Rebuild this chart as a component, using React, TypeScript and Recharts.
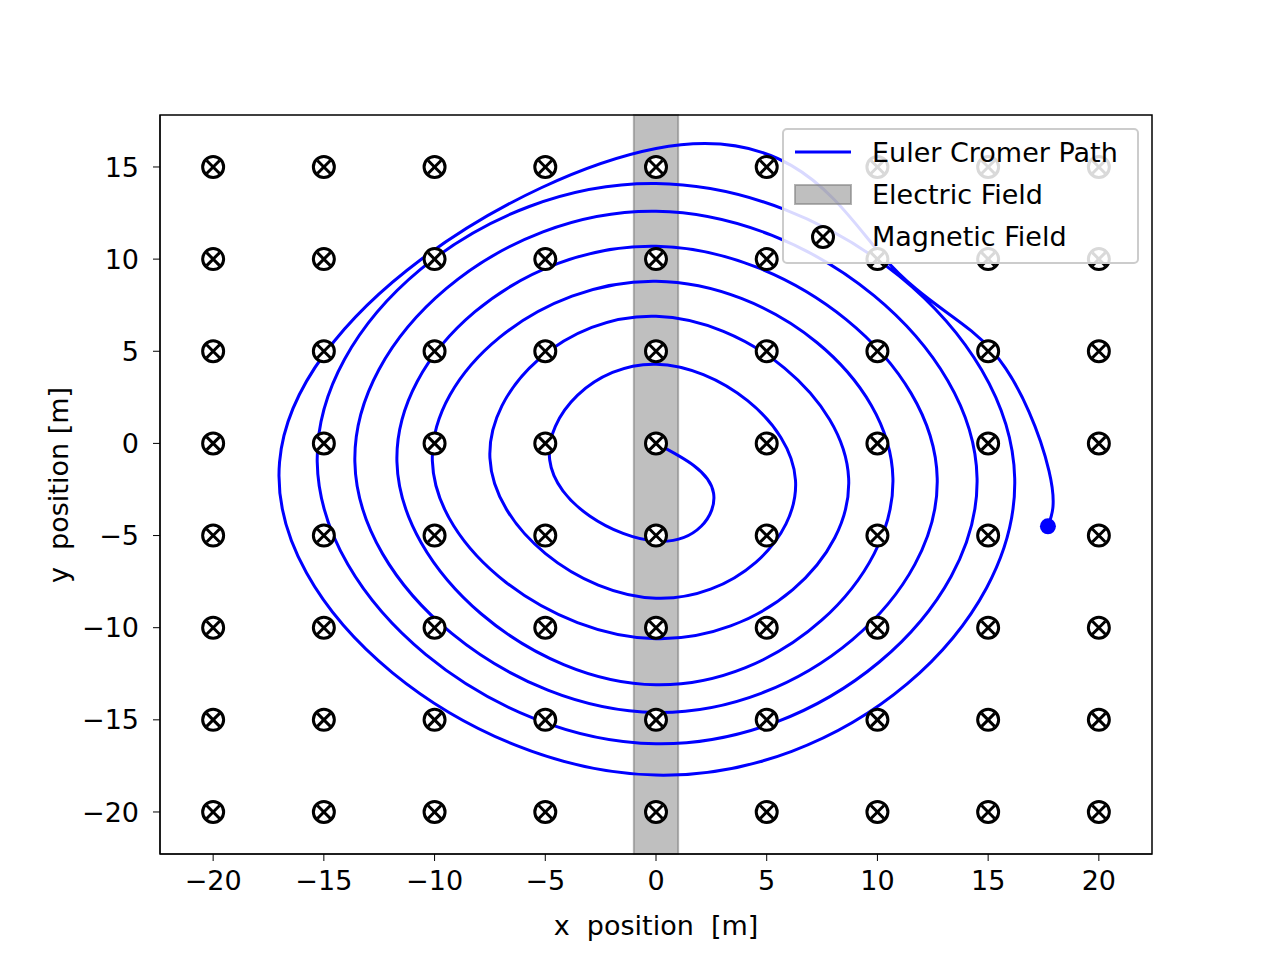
import React from "react";
import { ComposedChart, Line, Scatter, XAxis, YAxis, ReferenceArea } from "recharts";

const xTicks = [-20, -15, -10, -5, 0, 5, 10, 15, 20];
const yTicks = [-20, -15, -10, -5, 0, 5, 10, 15];
const fieldX = [-20, -15, -10, -5, 0, 5, 10, 15, 20];
const fieldY = [-20, -15, -10, -5, 0, 5, 10, 15];
const magnetic = fieldY.flatMap((y) => fieldX.map((x) => ({ x, y })));

// Spiral path: extremes of each half loop (right, bottom, left, top)
const rightX = [2.6, 6.3, 8.7, 10.7, 12.7, 14.5, 16.2];
const rightY = [-2.7, -2.0, -1.9, -1.9, -1.9, -1.9, -1.9];
const bottomY = [-5.3, -8.4, -10.6, -13.1, -14.6, -16.3, -18.0];
const leftX = [-4.8, -7.5, -10.1, -11.7, -13.6, -15.3, -17.0];
const leftY = [-0.9, -0.8, -0.95, -1.0, -1.0, -1.0, -1.0];
const topY = [4.3, 6.9, 8.8, 10.7, 12.6, 14.1, 16.0];
const tailPath = [
  { x: 10.2, y: 10.2 },
  { x: 15.2, y: 5.0 },
  { x: 17.75, y: -1.5 },
  { x: 17.7, y: -4.5 },
];
const endPoint = [{ x: 17.7, y: -4.5 }];

const path: { x: number; y: number }[] = [{ x: 0, y: 0 }];
rightX.forEach((rx, i) => {
  path.push({ x: rx, y: rightY[i] });
  path.push({ x: 0, y: bottomY[i] });
  path.push({ x: leftX[i], y: leftY[i] });
  path.push({ x: 0, y: topY[i] });
});
tailPath.forEach((p) => path.push(p));

const fmt = (v: number) => String(v).replace("-", "\u2212");

const Marker = (props: any) => {
  const { cx, cy } = props;
  const d = 6.5;
  return (
    <g stroke="#000" strokeWidth={3} fill="none">
      <circle cx={cx} cy={cy} r={10.5} fill="#fff" />
      <line x1={cx - d} y1={cy - d} x2={cx + d} y2={cy + d} />
      <line x1={cx - d} y1={cy + d} x2={cx + d} y2={cy - d} />
    </g>
  );
};

const Dot = (props: any) => <circle cx={props.cx} cy={props.cy} r={8} fill="#0000ff" />;

const font = "DejaVu Sans, sans-serif";
const FS = 27;
const X0 = -22.4, X1 = 22.4, Y0 = -22.28, Y1 = 17.82;

export default function App() {
  return (
    <div style={{ position: "absolute", left: 0, top: 0, width: 1280, height: 960, background: "#fff", fontFamily: font }}>
      <ComposedChart width={1280} height={960} margin={{ top: 115, right: 128, bottom: 46, left: 60 }}>
        <XAxis type="number" dataKey="x" domain={[X0, X1]} ticks={xTicks} tickFormatter={fmt} allowDataOverflow
          height={60} stroke="#000" tickSize={7} tickMargin={10} tick={{ fill: "#000", fontSize: FS, fontFamily: font }} />
        <YAxis type="number" dataKey="y" domain={[Y0, Y1]} ticks={yTicks} tickFormatter={fmt} allowDataOverflow
          width={100} stroke="#000" tickSize={7} tickMargin={14} tick={{ fill: "#000", fontSize: FS, fontFamily: font }} />
        <Scatter data={magnetic} shape={Marker} isAnimationActive={false} />
        <ReferenceArea x1={-1} x2={1} y1={Y0} y2={Y1} fill="#808080" fillOpacity={0.5} stroke="#808080" strokeOpacity={0.6} strokeWidth={2} />
        <Line data={path} dataKey="y" type="natural" stroke="#0000ff" strokeWidth={3} dot={false} isAnimationActive={false} />
        <Scatter data={endPoint} shape={Dot} isAnimationActive={false} />
        <ReferenceArea x1={X0} x2={X1} y1={Y0} y2={Y1} fill="none" stroke="#000" strokeWidth={1.5} />
      </ComposedChart>
      <div style={{ position: "absolute", left: 656, top: 925, fontSize: FS, whiteSpace: "pre", transform: "translate(-50%,-50%)" }}>x  position  [m]</div>
      <div style={{ position: "absolute", left: 58, top: 485, fontSize: FS, whiteSpace: "pre", transform: "translate(-50%,-50%) rotate(-90deg)" }}>y  position [m]</div>
      <svg style={{ position: "absolute", left: 0, top: 0 }} width={1280} height={960}>
        <rect x={783} y={129} width={355} height={134} rx={4} fill="#fff" fillOpacity={0.85} stroke="#ccc" strokeWidth={2} />
        <line x1={795} y1={152} x2={851} y2={152} stroke="#0000ff" strokeWidth={3} />
        <rect x={795} y={185} width={56} height={19} fill="#808080" fillOpacity={0.5} stroke="#808080" strokeOpacity={0.6} strokeWidth={2} />
        <Marker cx={823} cy={237} />
        <g fontSize={FS} fontFamily={font} fill="#000">
          <text x={872} y={162}>Euler Cromer Path</text>
          <text x={872} y={204}>Electric Field</text>
          <text x={872} y={246}>Magnetic Field</text>
        </g>
      </svg>
    </div>
  );
}
